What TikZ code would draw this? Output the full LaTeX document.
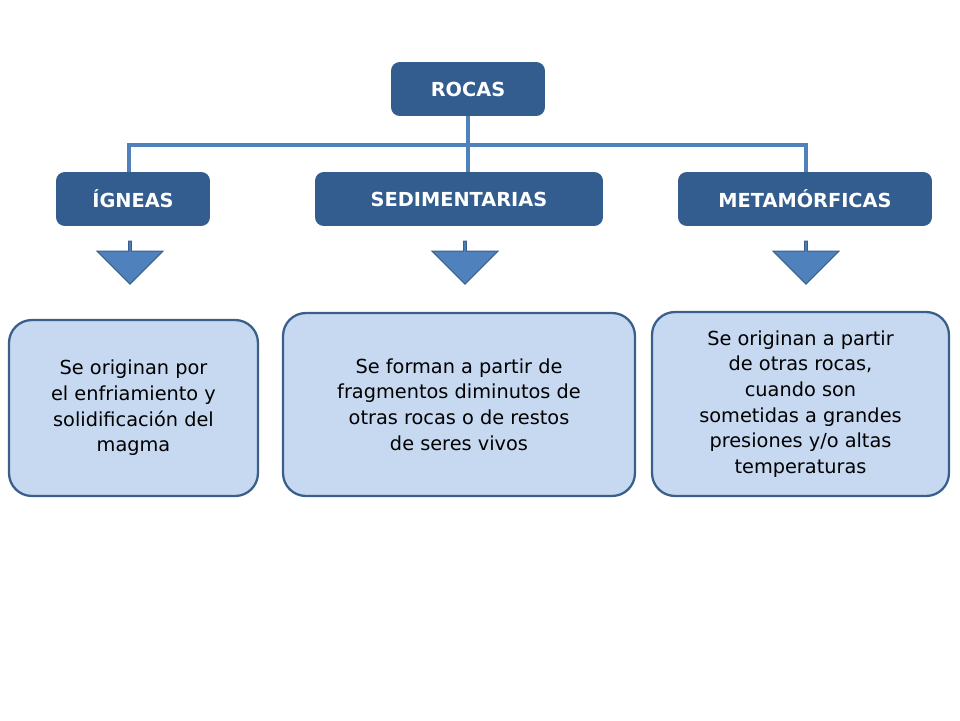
\documentclass[tikz,border=0pt]{standalone}
\usepackage{fontspec}
\setmainfont{DejaVu Sans}
\usetikzlibrary{shapes.arrows}
\definecolor{darkbox}{HTML}{335D8E}
\definecolor{linkblue}{HTML}{4F81BD}
\definecolor{lightbox}{HTML}{C6D9F1}
\definecolor{edgeblue}{HTML}{3A5F8B}
\tikzset{
  head/.style={rectangle,rounded corners=5pt,fill=darkbox,text=white,font=\bfseries\fontsize{11}{13}\selectfont,minimum height=1.08cm},
  info/.style={rectangle,rounded corners=13pt,draw=edgeblue,line width=1.3pt,fill=lightbox,align=center,font=\fontsize{11}{14.6}\selectfont},
  downarrow/.style={single arrow,shape border rotate=270,fill=linkblue,draw=edgeblue,line width=0.6pt,minimum width=1.32cm,single arrow head extend=0.25cm,single arrow head indent=0pt,minimum height=0.86cm,inner sep=0pt}
}
\begin{document}
\begin{tikzpicture}[x=0.02cm,y=-0.02cm]
  \useasboundingbox (0,0) rectangle (960,720);
  \node[head,minimum width=3.08cm] (rocas) at (468,89) {ROCAS};
  \node[head,minimum width=3.08cm] (ign) at (133,199) {ÍGNEAS};
  \node[head,minimum width=5.76cm] (sed) at (459,199) {SEDIMENTARIAS};
  \node[head,minimum width=5.08cm] (met) at (805,199) {METAMÓRFICAS};

  \coordinate (jl) at (129,145);
  \coordinate (jm) at (468,145);
  \coordinate (jr) at (806,145);
  \draw[linkblue,line width=2.5pt] (rocas.south) -- (jm);
  \draw[linkblue,line width=2.5pt] (jl |- ign.north) -- (jl) -- (jr) -- (jr |- met.north);
  \draw[linkblue,line width=2.5pt] (jm) -- (jm |- sed.north);

  \node[downarrow] (a1) at (130,262) {};
  \node[downarrow] (a2) at (465,262) {};
  \node[downarrow] (a3) at (806,262) {};

  \node[info,minimum width=4.98cm,minimum height=3.52cm] (t1) at (133.5,408) {Se originan por\\el enfriamiento y\\solidificación del\\magma};
  \node[info,minimum width=7.04cm,minimum height=3.66cm] (t2) at (459,404.5) {Se forman a partir de\\fragmentos diminutos de\\otras rocas o de restos\\de seres vivos};
  \node[info,minimum width=5.94cm,minimum height=3.68cm] (t3) at (800.5,404) {Se originan a partir\\de otras rocas,\\cuando son\\sometidas a grandes\\presiones y/o altas\\temperaturas};
\end{tikzpicture}
\end{document}
